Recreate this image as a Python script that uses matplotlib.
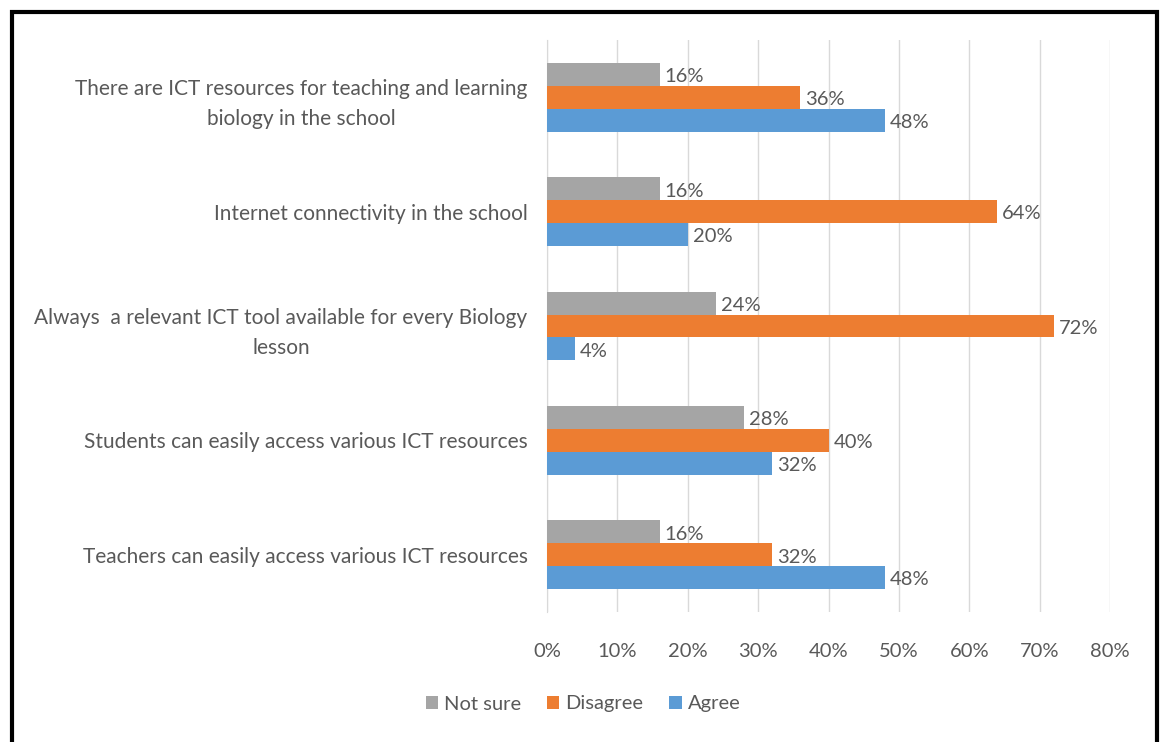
import matplotlib
matplotlib.use("Agg")
import matplotlib.pyplot as plt
from matplotlib.patches import Rectangle
from matplotlib.ticker import PercentFormatter
import numpy as np

plt.rcParams['font.family'] = ['Lato', 'DejaVu Sans']

categories = [
    "There are ICT resources for teaching and learning\nbiology in the school",
    "Internet connectivity in the school",
    "Always  a relevant ICT tool available for every Biology\nlesson",
    "Students can easily access various ICT resources",
    "Teachers can easily access various ICT resources",
]
series_names = ["Not sure", "Disagree", "Agree"]
not_sure = [16, 16, 24, 28, 16]
disagree = [36, 64, 72, 40, 32]
agree = [48, 20, 4, 32, 48]
x_ticks = [0, 10, 20, 30, 40, 50, 60, 70, 80]

colors = ["#A5A5A5", "#ED7D31", "#5B9BD5"]
text_color = "#595959"
fs = 14.5

fig = plt.figure(figsize=(11.62, 7.42), dpi=100)
ax = fig.add_axes([547 / 1162, 130 / 742, 563 / 1162, 572 / 742])

y = np.arange(len(categories))
h = 0.2
offsets = [-h, 0, h]
for vals, name, col, off in zip([not_sure, disagree, agree], series_names, colors, offsets):
    bars = ax.barh(y + off, [v / 100 for v in vals], height=h, color=col, label=name, zorder=3)
    for b, v in zip(bars, vals):
        ax.text(b.get_width() + 0.007, b.get_y() + b.get_height() * 0.6, f"{v}%",
                va="center", ha="left", fontsize=fs, color=text_color)

ax.set_ylim(len(categories) - 0.5, -0.5)
ax.set_xlim(0, 0.8)
ax.set_xticks([t / 100 for t in x_ticks])
ax.xaxis.set_major_formatter(PercentFormatter(1.0, decimals=0))
ax.set_yticks(y)
ax.set_yticklabels(categories, fontsize=15, color=text_color,
                   multialignment="center", linespacing=1.6)
ax.tick_params(axis="y", length=0, pad=14)
ax.tick_params(axis="x", length=0, pad=22, labelsize=fs, labelcolor=text_color)
ax.grid(axis="x", color="#D9D9D9", lw=1, zorder=0)
for s in ["top", "right", "bottom"]:
    ax.spines[s].set_visible(False)
ax.spines["left"].set_color("#D9D9D9")

ax.legend(loc="center", bbox_to_anchor=(583 / 1162, 38 / 742), bbox_transform=fig.transFigure,
          ncol=3, frameon=False, fontsize=fs, labelcolor=text_color,
          handlelength=0.6, handleheight=0.6, handletextpad=0.3, columnspacing=1.3)

fig.patches.append(Rectangle((12 / 1162, -0.1), (1157 - 12) / 1162, (742 - 12) / 742 + 0.1,
                             transform=fig.transFigure, fill=False, edgecolor="black", lw=3))

fig.savefig("out.png", dpi=100)
